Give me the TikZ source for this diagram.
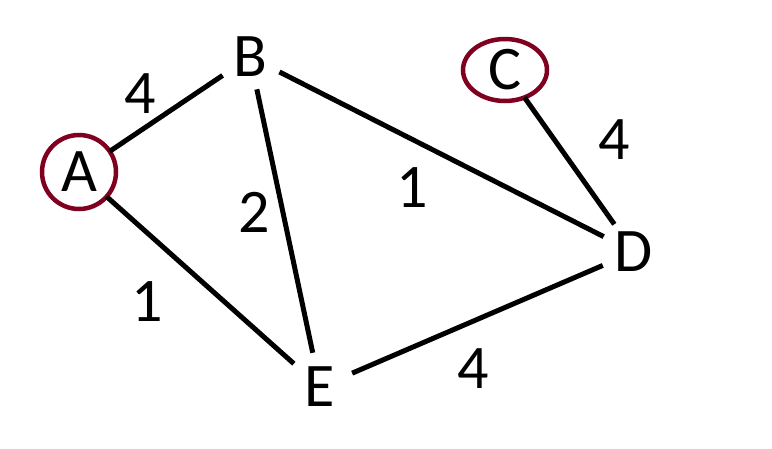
\documentclass[tikz,border=0pt]{standalone}
\usepackage{fontspec}
\setmainfont{Carlito}
\usepackage{tikz}
\usetikzlibrary{shapes}
\definecolor{grmaroon}{RGB}{128,0,32}
\tikzstyle{vertex} = [circle, minimum size=68pt, inner sep=0pt, outer sep=0pt, font=\fontsize{62}{62}\selectfont]
\tikzstyle{marked} = [vertex, draw=grmaroon, line width=4.5pt]
\tikzstyle{weight} = [inner sep=0pt, font=\fontsize{62}{62}\selectfont]
\tikzstyle{edge} = [line width=5pt, color=black]

\begin{document}
\begin{tikzpicture}[x=1pt, y=-1pt]
\useasboundingbox (0,0) rectangle (772,448);
% Vertices
\node (a) [marked, minimum size=74pt] at (79,172) {A};
\node (b) [vertex, minimum size=66pt] at (250,57) {B};
\node (c) [marked, ellipse, minimum width=84pt, minimum height=62pt] at (505,70) {C};
\node (d) [vertex] at (634,252) {D};
\node (e) [vertex, minimum size=70pt] at (320,387) {E};

% Edges
\draw[edge] (a) -- (b);
\draw[edge] (a) -- (e);
\draw[edge] (b) -- (e);
\draw[edge] (b) -- (d);
\draw[edge] (c) -- (d);
\draw[edge] (e) -- (d);

% Weights
\node (wab) [weight] at (140,94) {4};
\node (wae) [weight] at (147,302) {1};
\node (wbe) [weight] at (254,212) {2};
\node (wbd) [weight] at (412,188) {1};
\node (wcd) [weight] at (614,140) {4};
\node (wed) [weight] at (473,369) {4};
\end{tikzpicture}
\end{document}
